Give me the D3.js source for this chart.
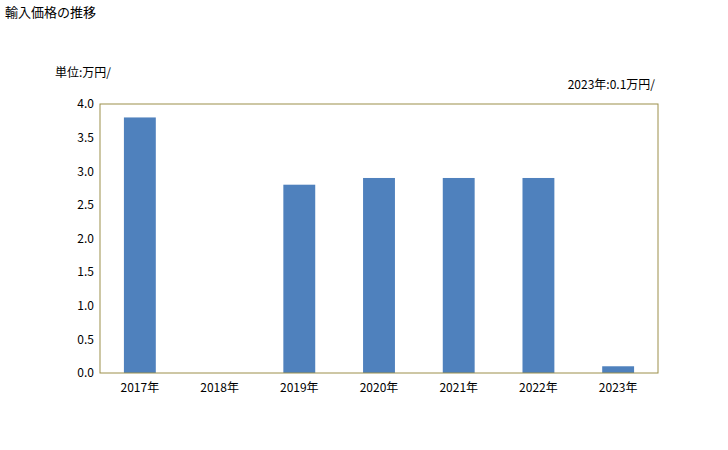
<!DOCTYPE html>
<html><head><meta charset="utf-8">
<script src="https://cdn.jsdelivr.net/npm/d3@7"></script>
<style>body{margin:0;background:#fff;font-family:"Noto Sans CJK JP",sans-serif;}</style>
</head><body>
<div id="chart"></div>
<script>
var years = ["2017年", "2018年", "2019年", "2020年", "2021年", "2022年", "2023年"];
var values = [3.8, null, 2.8, 2.9, 2.9, 2.9, 0.1];
var yTicks = [0, 0.5, 1, 1.5, 2, 2.5, 3, 3.5, 4];

var svg = d3.select("#chart").append("svg")
    .attr("width", 728).attr("height", 450);

var plotLeft = 100, plotRight = 658, plotTop = 104, plotBottom = 373;

var x = d3.scaleBand().domain(years).range([plotLeft, plotRight]).paddingInner(0.6).paddingOuter(0.3);
var y = d3.scaleLinear().domain([0, 4]).range([plotBottom, plotTop]);

svg.append("text").attr("x", 5).attr("y", 17).attr("font-size", 13).text("輸入価格の推移");
svg.append("text").attr("x", 55).attr("y", 77).attr("font-size", 12).text("単位:万円/");
svg.append("text").attr("x", 655).attr("y", 89).attr("font-size", 12)
    .attr("text-anchor", "end").text("2023年:0.1万円/");

svg.selectAll("rect.bar").data(years).enter().append("rect")
    .attr("class", "bar")
    .attr("x", d => x(d))
    .attr("width", x.bandwidth())
    .attr("y", (d, i) => y(values[i] || 0))
    .attr("height", (d, i) => plotBottom - y(values[i] || 0))
    .attr("fill", "#4f81bd");

svg.append("rect").attr("x", plotLeft).attr("y", plotTop)
    .attr("width", plotRight - plotLeft).attr("height", plotBottom - plotTop)
    .attr("fill", "none").attr("stroke", "#9c8f4a");

var yAxis = svg.append("g").attr("transform", `translate(${plotLeft},0)`)
    .call(d3.axisLeft(y).tickValues(yTicks).tickFormat(d3.format(".1f")).tickSize(0).tickPadding(6));
yAxis.select(".domain").remove();
yAxis.selectAll("text").attr("font-size", 12).attr("fill", "#000")
    .attr("font-family", "Noto Sans CJK JP");

var xAxis = svg.append("g").attr("transform", `translate(0,${plotBottom})`)
    .call(d3.axisBottom(x).tickSize(0).tickPadding(10));
xAxis.select(".domain").remove();
xAxis.selectAll("text").attr("font-size", 12).attr("fill", "#000")
    .attr("font-family", "Noto Sans CJK JP");
</script>
</body></html>
